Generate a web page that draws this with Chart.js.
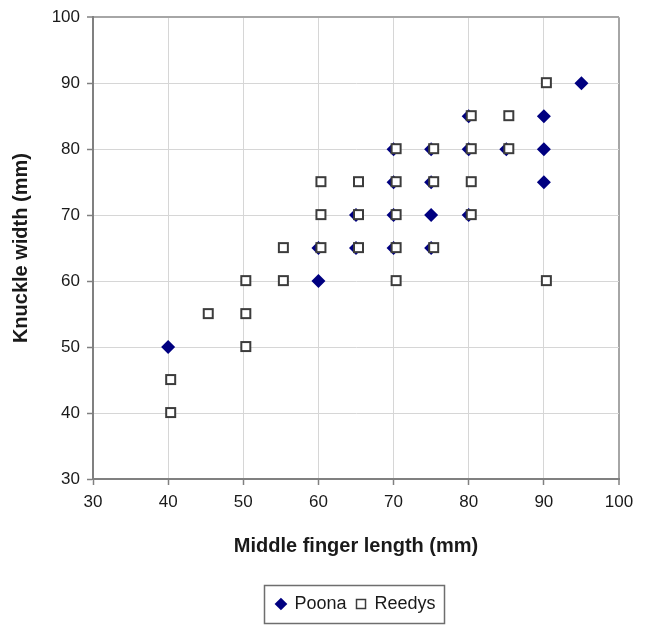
<!DOCTYPE html>
<html>
<head>
<meta charset="utf-8">
<script src="https://cdn.jsdelivr.net/npm/chart.js@4/dist/chart.umd.min.js"></script>
<style>
  html, body { margin: 0; padding: 0; background: #ffffff; }
  #wrap { width: 647px; height: 626px; }
</style>
</head>
<body>
<div id="wrap"><canvas id="chart" width="647" height="626"></canvas></div>
<script>
// Poona group: middle finger length vs knuckle width (mm)
const poonaLength = [40, 60, 60, 65, 65, 70, 70, 70, 70, 75, 75, 75, 75, 80, 80, 80, 85, 90, 90, 90, 95];
const poonaWidth  = [50, 60, 65, 65, 70, 65, 70, 75, 80, 65, 70, 75, 80, 70, 80, 85, 80, 75, 80, 85, 90];

// Reedys group
const reedysLength = [40, 40, 45, 50, 50, 50, 55, 55, 60, 60, 60, 65, 65, 65, 70, 70, 70, 70, 70, 75, 75, 75, 80, 80, 80, 80, 85, 85, 90, 90];
const reedysWidth  = [40, 45, 55, 50, 55, 60, 60, 65, 65, 70, 75, 65, 70, 75, 60, 65, 70, 75, 80, 65, 75, 80, 70, 75, 80, 85, 80, 85, 60, 90];

// Axis tick values
const xTicks = [30, 40, 50, 60, 70, 80, 90, 100];
const yTicks = [30, 40, 50, 60, 70, 80, 90, 100];

const seriesNames = ['Poona', 'Reedys'];

const toPoints = (xs, ys) => xs.map((x, i) => ({ x: x, y: ys[i] }));

// Hollow square marker, drawn slightly right of its anchor
function squareMarker() {
  const c = document.createElement('canvas');
  c.width = 20; c.height = 14;
  const g = c.getContext('2d');
  g.fillStyle = '#ffffff';
  g.strokeStyle = '#3c3c3c';
  g.lineWidth = 2;
  g.fillRect(8, 2, 9, 9);
  g.strokeRect(8, 2, 9, 9);
  return c;
}

const FONT = '"Liberation Sans", Arial, sans-serif';
const TEXT = '#1a1a1a';
const AXIS = '#808080';
const GRID = '#d6d6d6';
const EDGE = '#a6a6a6';

// Frame around the legend, and legend centred under the plot area
const legendFrame = {
  id: 'legendFrame',
  afterLayout(chart) {
    const lg = chart.legend, ca = chart.chartArea;
    if (!lg) return;
    const d = (ca.left + ca.right) / 2 - (lg.left + lg.right) / 2;
    lg.left += d; lg.right += d;
  },
  afterDraw(chart) {
    const hb = chart.legend && chart.legend.legendHitBoxes;
    if (!hb || !hb.length) return;
    const first = hb[0], last = hb[hb.length - 1];
    const ctx = chart.ctx;
    const l = Math.round(first.left - 12) + 0.5;
    const r = Math.round(last.left + last.width + 8) + 0.5;
    const t = Math.round(first.top - 10) + 0.5;
    const b = Math.round(first.top + first.height + 10) + 0.5;
    ctx.save();
    ctx.strokeStyle = '#6e6e6e';
    ctx.lineWidth = 1.5;
    ctx.strokeRect(l, t, r - l, b - t);
    ctx.restore();
  }
};

const edgeColor = c => (c.tick && c.tick.value === 100 ? EDGE : GRID);
const edgeWidth = c => (c.tick && c.tick.value === 100 ? 2 : 1);

new Chart(document.getElementById('chart'), {
  type: 'scatter',
  data: {
    datasets: [
      {
        label: seriesNames[0],
        data: toPoints(poonaLength, poonaWidth),
        pointStyle: 'rectRot',
        pointRadius: 7,
        pointBackgroundColor: '#000080',
        pointBorderColor: '#000080',
        pointBorderWidth: 0,
        order: 1
      },
      {
        label: seriesNames[1],
        data: toPoints(reedysLength, reedysWidth),
        pointStyle: squareMarker(),
        pointRadius: 7,
        pointBackgroundColor: '#ffffff',
        pointBorderColor: '#3c3c3c',
        pointBorderWidth: 2,
        order: 0
      }
    ]
  },
  options: {
    responsive: false,
    animation: false,
    devicePixelRatio: 1,
    layout: { padding: { left: 0, right: 28, top: 6, bottom: 3 } },
    scales: {
      x: {
        type: 'linear',
        min: 30, max: 100,
        afterBuildTicks: s => { s.ticks = xTicks.map(v => ({ value: v })); },
        afterFit: s => { s.height = 106; },
        ticks: { color: TEXT, font: { family: FONT, size: 17 }, padding: 7, maxRotation: 0 },
        grid: { color: edgeColor, lineWidth: edgeWidth, tickColor: AXIS, tickLength: 6, tickWidth: 1.5 },
        border: { color: AXIS, width: 2 },
        title: {
          display: true,
          text: 'Middle finger length (mm)',
          color: TEXT,
          font: { family: FONT, size: 20, weight: 'bold' },
          padding: { top: 0, bottom: 27 }
        }
      },
      y: {
        type: 'linear',
        min: 30, max: 100,
        afterBuildTicks: s => { s.ticks = yTicks.map(v => ({ value: v })); },
        afterFit: s => { s.width = 93; },
        ticks: { color: TEXT, font: { family: FONT, size: 17 }, padding: 7 },
        grid: { color: edgeColor, lineWidth: edgeWidth, tickColor: AXIS, tickLength: 6, tickWidth: 1.5 },
        border: { color: AXIS, width: 2 },
        title: {
          display: true,
          text: 'Knuckle width (mm)',
          color: TEXT,
          font: { family: FONT, size: 20, weight: 'bold' },
          padding: { top: 9, bottom: 0 }
        }
      }
    },
    plugins: {
      tooltip: { enabled: false },
      legend: {
        display: true,
        position: 'bottom',
        labels: {
          usePointStyle: true,
          boxWidth: 9,
          boxHeight: 9,
          padding: 10,
          color: TEXT,
          font: { family: FONT, size: 18 },
          sort: (a, b) => a.datasetIndex - b.datasetIndex,
          generateLabels: chart => {
            const items = Chart.defaults.plugins.legend.labels.generateLabels(chart);
            items.forEach(it => {
              if (it.datasetIndex === 1) {
                it.pointStyle = 'rect';
                it.fillStyle = '#ffffff';
                it.strokeStyle = '#3c3c3c';
                it.lineWidth = 1.5;
              } else {
                it.pointStyle = 'rectRot';
                it.fillStyle = '#000080';
                it.strokeStyle = '#000080';
                it.lineWidth = 0;
              }
            });
            return items;
          }
        }
      }
    }
  },
  plugins: [legendFrame]
});
</script>
</body>
</html>
